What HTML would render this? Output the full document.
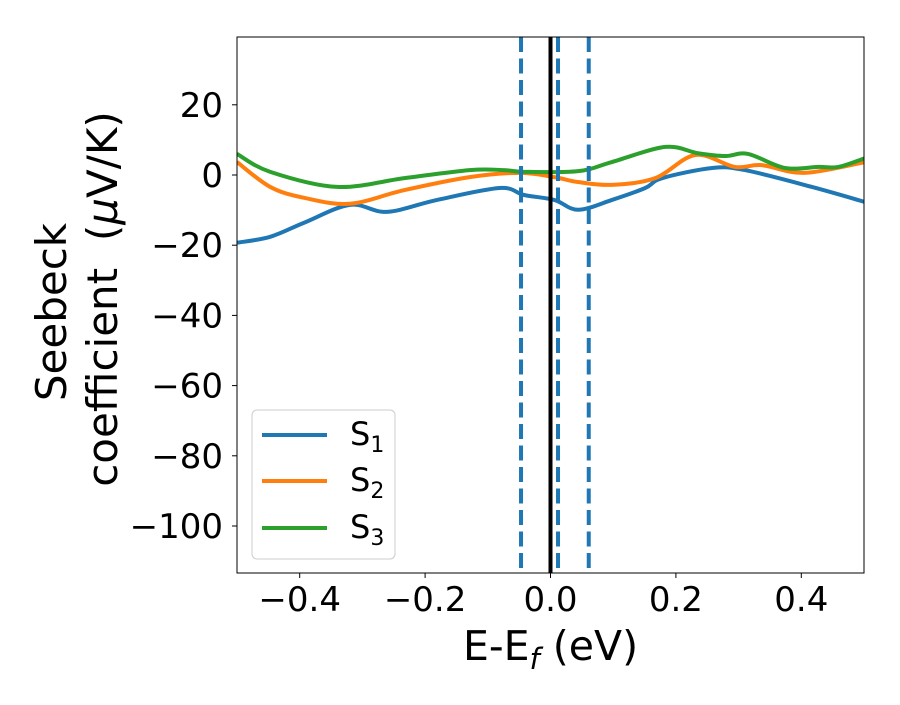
<!DOCTYPE html>
<html><head><meta charset="utf-8"><style>
html,body{margin:0;padding:0;background:#fff;}
svg text{font-family:"DejaVu Sans","Liberation Sans",sans-serif;fill:#000;}
</style></head><body>
<svg width="900" height="700" viewBox="0 0 900 700" xmlns="http://www.w3.org/2000/svg">
<g id="plot"></g>
</svg>
<script>
const xTicks=[-0.4,-0.2,0.0,0.2,0.4];
const xTickLabels=["\u22120.4","\u22120.2","0.0","0.2","0.4"];
const yTicks=[20,0,-20,-40,-60,-80,-100];
const yTickLabels=["20","0","\u221220","\u221240","\u221260","\u221280","\u2212100"];
const s1x=[-0.5,-0.447,-0.393,-0.32,-0.261,-0.181,-0.081,-0.042,0.006,0.044,0.098,0.151,0.178,0.258,0.31,0.417,0.5];
const s1y=[-19.3,-17.6,-13.6,-8.5,-10.5,-7.1,-3.7,-5.7,-7.1,-9.9,-7.1,-3.7,-0.9,2,1.4,-3.4,-7.6];
const s2x=[-0.5,-0.447,-0.393,-0.32,-0.233,-0.129,-0.049,0.006,0.044,0.098,0.167,0.231,0.294,0.337,0.405,0.5];
const s2y=[3.7,-3.4,-6.5,-8.2,-4.3,-0.6,0.6,-0.6,-2,-2.8,-0.9,5.7,2.3,2.8,0.6,3.6];
const s3x=[-0.5,-0.447,-0.34,-0.233,-0.129,-0.075,-0.042,0.044,0.098,0.183,0.235,0.279,0.315,0.374,0.427,0.459,0.5];
const s3y=[6,0.9,-3.4,-0.9,1.4,1.4,0.9,1.1,3.7,8,6.2,5.4,6,2,2.3,2.3,4.7];
const vDashed=[-0.047,0.012,0.061];
const seriesNames=["S1","S2","S3"];
const colors=["#1f77b4","#ff7f0e","#2ca02c"];

const L=237,R=864,T=37,B=573;
const X=v=>550.5+v*627;
const Y=v=>175-v*3.51;
const NS="http://www.w3.org/2000/svg";
const g=document.getElementById('plot');
function el(t,a){const e=document.createElementNS(NS,t);for(const k in a)e.setAttribute(k,a[k]);g.appendChild(e);return e;}
function smooth(xs,ys){
  const p=xs.map((x,i)=>[X(x),Y(ys[i])]);
  let d="M"+p[0][0]+","+p[0][1];
  for(let i=0;i<p.length-1;i++){
    const p0=p[Math.max(0,i-1)],p1=p[i],p2=p[i+1],p3=p[Math.min(p.length-1,i+2)];
    const c1=[p1[0]+(p2[0]-p0[0])/6,p1[1]+(p2[1]-p0[1])/6];
    const c2=[p2[0]-(p3[0]-p1[0])/6,p2[1]-(p3[1]-p1[1])/6];
    d+=" C"+c1[0]+","+c1[1]+" "+c2[0]+","+c2[1]+" "+p2[0]+","+p2[1];
  }
  return d;
}
const defs=el('defs',{});
const cp=document.createElementNS(NS,'clipPath');cp.setAttribute('id','clip');
const cr=document.createElementNS(NS,'rect');cr.setAttribute('x',L);cr.setAttribute('y',T);cr.setAttribute('width',R-L);cr.setAttribute('height',B-T);
cp.appendChild(cr);defs.appendChild(cp);

const sx=[s1x,s2x,s3x],sy=[s1y,s2y,s3y];
for(let i=0;i<3;i++){
  const p=el('path',{d:smooth(sx[i],sy[i]),fill:'none',stroke:colors[i],'stroke-width':4,'clip-path':'url(#clip)'});
  
  
}
vDashed.forEach((v,i)=>{
  const l=el('line',{x1:X(v),x2:X(v),y1:T,y2:B,stroke:'#1f77b4','stroke-width':4,'stroke-dasharray':'15,6.5'});
  
  
});
const fl=el('line',{x1:X(0),x2:X(0),y1:T,y2:B,stroke:'#000','stroke-width':4});



const frame=el('rect',{x:L,y:T,width:R-L,height:B-T,fill:'none',stroke:'#000','stroke-width':1});



xTicks.forEach((v,i)=>{
  const t=el('line',{x1:X(v),x2:X(v),y1:B,y2:B+5,stroke:'#000'});
  
  
  const tx=el('text',{x:X(v),y:B+38,'text-anchor':'middle','font-size':34});
  tx.textContent=xTickLabels[i];
  
  
});
yTicks.forEach((v,i)=>{
  const t=el('line',{x1:L-5,x2:L,y1:Y(v),y2:Y(v),stroke:'#000'});
  
  
  const tx=el('text',{x:L-14,y:Y(v)+12,'text-anchor':'end','font-size':34});
  tx.textContent=yTickLabels[i];
  
  
});
const xt=el('text',{x:550.5,y:660,'text-anchor':'middle','font-size':41});
xt.innerHTML='E-E<tspan font-style="italic" font-size="29" dy="9">f</tspan><tspan dy="-9"> (eV)</tspan>';


const yt1=el('text',{x:0,y:0,'text-anchor':'middle','font-size':42,transform:'translate(66,312) rotate(-90)'});
yt1.textContent='Seebeck';


const yt2=el('text',{x:0,y:0,'text-anchor':'middle','font-size':42,transform:'translate(117,299) rotate(-90)','xml:space':'preserve'});
yt2.innerHTML='coefficient\u00a0\u00a0(<tspan font-style="italic">μ</tspan>V/K)';



const lg=el('rect',{x:252,y:410,width:143,height:149,rx:5,fill:'#fff','fill-opacity':0.8,stroke:'#ccc'});


const ly=[435,481,528];
for(let i=0;i<3;i++){
  const l=el('line',{x1:262,x2:327,y1:ly[i],y2:ly[i],stroke:colors[i],'stroke-width':4});
  
  
  const t=el('text',{x:350,y:ly[i]+10,'font-size':32});
  t.innerHTML='S<tspan font-size="22" dy="7">'+(i+1)+'</tspan>';
  
  
}
</script>
</body></html>
